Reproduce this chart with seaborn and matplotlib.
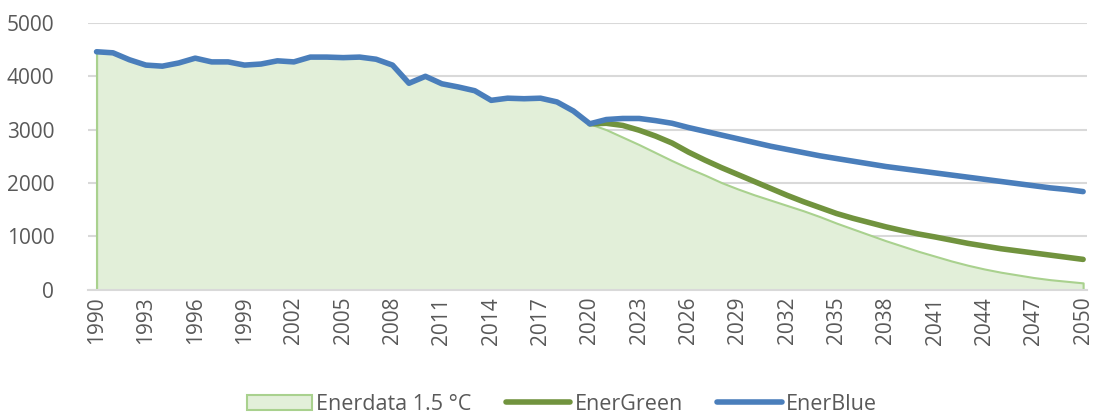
import matplotlib
matplotlib.use("Agg")
import matplotlib.pyplot as plt
from matplotlib.patches import Patch
from matplotlib.lines import Line2D
import seaborn as sns
import pandas as pd

# historical emissions 1990-2020 (shared by every series)
hist_years = list(range(1990, 2021))
hist_values = [4460, 4440, 4310, 4210, 4190, 4250, 4340, 4270, 4270, 4210,
               4230, 4290, 4270, 4360, 4360, 4350, 4360, 4320, 4210, 3870,
               4000, 3860, 3800, 3730, 3550, 3590, 3580, 3590, 3520, 3350,
               3110]

# scenarios 2021-2050
proj_years = list(range(2021, 2051))
enerblue = [3190, 3210, 3210, 3170, 3120, 3040, 2970, 2900, 2830, 2760,
            2690, 2630, 2570, 2510, 2460, 2410, 2360, 2310, 2270, 2230,
            2190, 2150, 2110, 2070, 2030, 1990, 1950, 1910, 1880, 1840]
energreen = [3120, 3080, 2990, 2880, 2750, 2580, 2430, 2290, 2160, 2030,
             1900, 1770, 1650, 1540, 1430, 1340, 1260, 1180, 1110, 1045,
             990, 930, 870, 820, 770, 730, 690, 650, 610, 570]
enerdata_15 = [3000, 2860, 2720, 2570, 2420, 2280, 2150, 2010, 1890, 1780,
               1680, 1580, 1480, 1370, 1250, 1140, 1030, 920, 820, 720,
               630, 540, 460, 390, 330, 280, 230, 190, 160, 130]

tick_years = list(range(1990, 2051, 3))

blue = "#4a7ebb"
green = "#71933e"
area_fill = "#e2efd9"
area_edge = "#a9d18e"
grid_c = "#d9d9d9"
text_c = "#595959"

sns.set_theme(style="white")
plt.rcParams['font.family'] = ['Open Sans', 'DejaVu Sans']

df_blue = pd.DataFrame({"year": hist_years + proj_years,
                        "value": hist_values + enerblue})
df_green = pd.DataFrame({"year": [2020] + proj_years,
                         "value": [hist_values[-1]] + energreen})
df_area = pd.DataFrame({"year": hist_years + proj_years,
                        "value": hist_values + enerdata_15})

fig = plt.figure(figsize=(10.96, 4.17), dpi=100)
ax = fig.add_axes([0.080, 0.305, 0.912, 0.640])

ax.fill_between(df_area["year"], 0, df_area["value"], facecolor=area_fill,
                edgecolor=area_edge, linewidth=1.5, zorder=2)
ax.plot([1990, 1990], [0, hist_values[0]], color=area_edge, lw=1.5, zorder=2)

sns.lineplot(data=df_green, x="year", y="value", ax=ax, color=green,
             linewidth=4, solid_capstyle="round", zorder=3)
sns.lineplot(data=df_blue, x="year", y="value", ax=ax, color=blue,
             linewidth=4, solid_capstyle="round", zorder=4)

ax.set_xlim(1989.46, 2050.25)
ax.set_ylim(0, 5000)
ax.set_yticks(range(0, 5001, 1000))
ax.set_xticks(tick_years)
ax.set_xticklabels([str(y) for y in tick_years], rotation=90)
ax.set_xlabel("")
ax.set_ylabel("")
ax.yaxis.grid(True, color=grid_c, linewidth=1.5, zorder=0)
ax.set_axisbelow(True)
for side in ["left", "right", "top"]:
    ax.spines[side].set_visible(False)
ax.spines["bottom"].set_color(grid_c)
ax.spines["bottom"].set_linewidth(1.5)
ax.tick_params(axis="both", colors=text_c, labelsize=15, length=0)
ax.tick_params(axis="y", pad=24)
ax.tick_params(axis="x", pad=5)

handles = [Patch(facecolor=area_fill, edgecolor=area_edge, linewidth=1.5),
           Line2D([0], [0], color=green, lw=4),
           Line2D([0], [0], color=blue, lw=4)]
labels = ["Enerdata 1.5 °C", "EnerGreen", "EnerBlue"]
fig.legend(handles, labels, loc="center", bbox_to_anchor=(0.513, 0.03),
           ncol=3, frameon=False, fontsize=15.5, handlelength=3.0,
           handletextpad=0.2, columnspacing=1.6, labelcolor=text_c)

fig.savefig("out.png", dpi=100)
